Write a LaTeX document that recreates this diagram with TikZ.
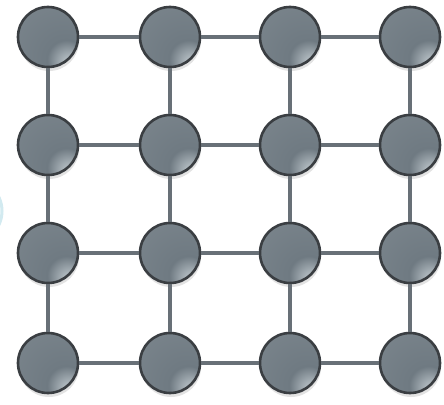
\documentclass[tikz,border=0pt]{standalone}
\usepackage{xcolor}
\usetikzlibrary{shadows}
\definecolor{gridLine}{HTML}{687077}
\definecolor{ballRim}{HTML}{3A3E42}
\definecolor{ballBody}{HTML}{6F7A82}
\definecolor{ballGlow}{HTML}{E2EAEE}
\definecolor{sideBlue}{HTML}{B4DCE6}
\pgfdeclareradialshading{ballshade}{\pgfpoint{19bp}{-23bp}}{%
  color(0bp)=(ballGlow); color(5bp)=(ballBody!45!ballGlow);
  color(16bp)=(ballBody); color(55bp)=(ballBody!90!white);
  color(85bp)=(ballBody!78!white)}

\begin{document}
\begin{tikzpicture}[x=1pt,y=-1pt,
  ball/.style={circle,minimum size=60pt,inner sep=0pt,draw=ballRim,line width=2.6pt,
    shading=ballshade,drop shadow={shadow xshift=1pt,shadow yshift=-4pt,opacity=0.22}},
  link/.style={draw=gridLine,line width=3.2pt}]
\useasboundingbox (0,0) rectangle (444,404);
\fill[white] (0,0) rectangle (444,404);
% faint arc cut by the left edge
\draw[sideBlue,line width=3pt,opacity=0.6] (-30,211) circle (32);
% the balls
\foreach \r/\y in {1/37,2/145,3/253,4/363} {
  \foreach \c/\x in {1/48,2/170,3/290,4/410} {
    \node[ball] (n-\r-\c) at (\x,\y) {};
  }
}
% links between neighbours
\foreach \r in {1,...,4} {
  \foreach \c in {1,2,3} {
    \pgfmathtruncatemacro{\d}{\c+1}
    \draw[link] (n-\r-\c) -- (n-\r-\d);
    \draw[link] (n-\c-\r) -- (n-\d-\r);
  }
}
\end{tikzpicture}
\end{document}
